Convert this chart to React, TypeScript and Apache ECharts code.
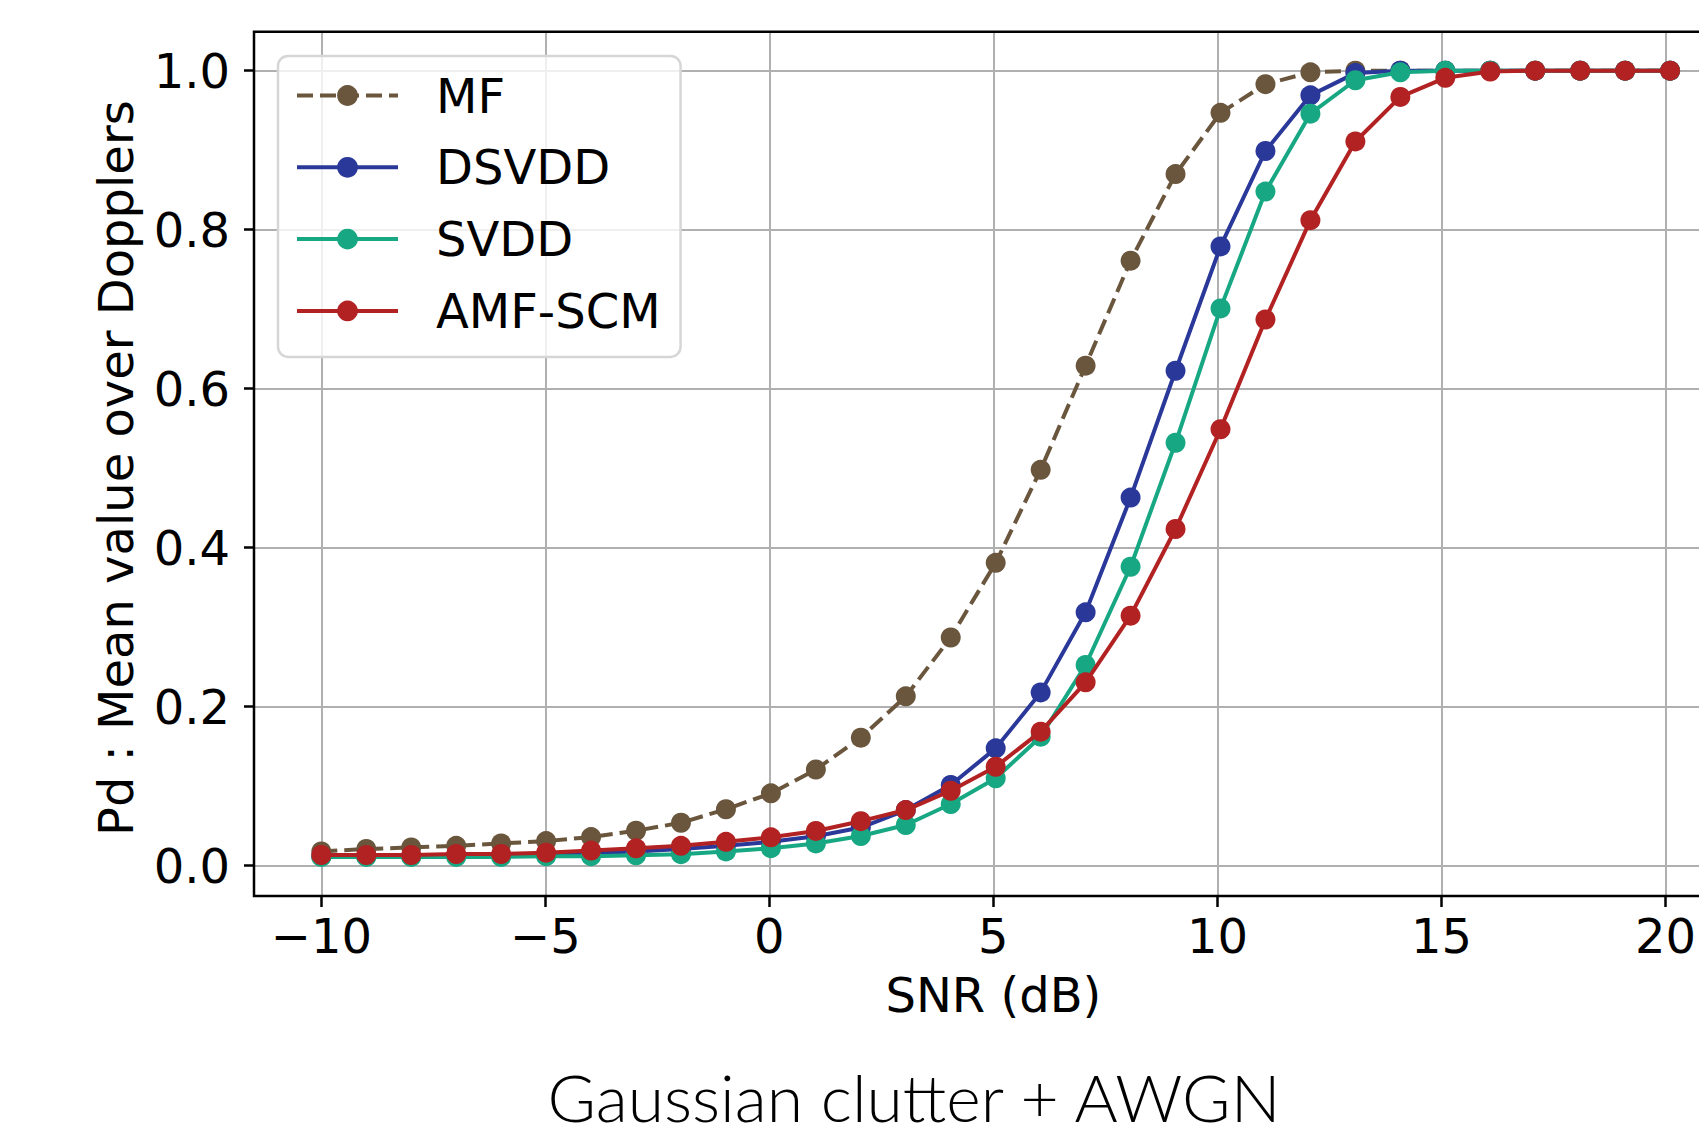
import React, { useEffect, useRef } from "react";
import * as echarts from "echarts";

const snrDb = [-10, -9, -8, -7, -6, -5, -4, -3, -2, -1, 0, 1, 2, 3, 4, 5, 6, 7, 8, 9, 10, 11, 12, 13, 14, 15, 16, 17, 18, 19, 20];

const mfPd = [0.018, 0.021, 0.023, 0.025, 0.028, 0.031, 0.036, 0.044, 0.054, 0.071, 0.091, 0.121, 0.161, 0.213, 0.287, 0.381, 0.498, 0.629, 0.761, 0.870, 0.947, 0.983, 0.998, 1.0, 1.0, 1.0, 1.0, 1.0, 1.0, 1.0, 1.0];
const dsvddPd = [0.012, 0.012, 0.012, 0.013, 0.013, 0.014, 0.016, 0.018, 0.021, 0.025, 0.030, 0.037, 0.048, 0.070, 0.1015, 0.1476, 0.218, 0.3187, 0.463, 0.6226, 0.779, 0.899, 0.969, 0.997, 1.0, 1.0, 1.0, 1.0, 1.0, 1.0, 1.0];
const svddPd = [0.011, 0.011, 0.011, 0.011, 0.011, 0.012, 0.012, 0.013, 0.0145, 0.018, 0.022, 0.028, 0.0374, 0.0512, 0.0776, 0.110, 0.1623, 0.2525, 0.376, 0.532, 0.701, 0.848, 0.946, 0.988, 0.998, 1.0, 1.0, 1.0, 1.0, 1.0, 1.0];
const amfScmPd = [0.0135, 0.0135, 0.0135, 0.0147, 0.0147, 0.0164, 0.019, 0.0219, 0.025, 0.030, 0.0357, 0.0437, 0.056, 0.070, 0.0943, 0.1245, 0.1686, 0.2307, 0.3145, 0.4235, 0.549, 0.687, 0.812, 0.911, 0.967, 0.991, 0.999, 1.0, 1.0, 1.0, 1.0];

const seriesNames = ["MF", "DSVDD", "SVDD", "AMF-SCM"];
const seriesColors = ["#6a553d", "#2a3899", "#17a883", "#b22222"];
const seriesValues = [mfPd, dsvddPd, svddPd, amfScmPd];
const seriesDashed = [true, false, false, false];

const xLabel = "SNR (dB)";
const yLabel = "Pd : Mean value over Dopplers";
const caption = "Gaussian clutter + AWGN";

export default function App() {
  const ref = useRef<HTMLDivElement>(null);
  useEffect(() => {
    const chart = echarts.init(ref.current!, null, { renderer: "svg" });
    const font = "DejaVu Sans";
    const fs = 48;
    const pairs = (ys: number[]) => snrDb.map((x, i) => [x, ys[i]]);
    // pixel geometry
    const boxL = 254, boxT = 31.7, boxR = 1737, boxB = 896;
    const dataL = 321.3, dataW = 1348.8, dataT = 70.7, dataH = 795;
    const gridColor = "#b0b0b0";
    chart.setOption({
      animation: false,
      backgroundColor: "#ffffff",
      grid: [
        { left: dataL, top: dataT, width: dataW, height: dataH, containLabel: false },
        { left: dataL, top: boxT, width: dataW, height: boxB - boxT, containLabel: false },
        { left: boxL, top: dataT, width: boxR - boxL, height: dataH, containLabel: false },
      ],
      xAxis: [
        { type: "value", gridIndex: 0, min: -10, max: 20, show: false },
        {
          type: "value", gridIndex: 1, min: -10, max: 20, interval: 5, position: "bottom",
          axisLine: { show: false },
          axisTick: { show: true, inside: false, length: 11, lineStyle: { color: "#000", width: 2.5 } },
          splitLine: { show: true, lineStyle: { color: gridColor, width: 2 } },
          axisLabel: {
            show: true, margin: 40, verticalAlign: "middle", color: "#000", fontFamily: font, fontSize: fs,
            formatter: (v: number) => String(v).replace("-", "\u2212"),
          },
          name: xLabel, nameLocation: "middle", nameGap: 99,
          nameTextStyle: { color: "#000", fontFamily: font, fontSize: fs, verticalAlign: "middle" },
        },
        { type: "value", gridIndex: 2, min: 0, max: 1, show: false },
      ],
      yAxis: [
        { type: "value", gridIndex: 0, min: 0, max: 1, show: false },
        { type: "value", gridIndex: 1, min: 0, max: 1, show: false },
        {
          type: "value", gridIndex: 2, min: 0, max: 1, interval: 0.2, position: "left",
          axisLine: { show: false },
          axisTick: { show: true, inside: false, length: 10, lineStyle: { color: "#000", width: 2.5 } },
          splitLine: { show: true, lineStyle: { color: gridColor, width: 2 } },
          axisLabel: {
            show: true, margin: 24, color: "#000", fontFamily: font, fontSize: fs,
            formatter: (v: number) => v.toFixed(1),
          },
          name: yLabel, nameLocation: "middle", nameGap: 138, nameRotate: 90,
          nameTextStyle: { color: "#000", fontFamily: font, fontSize: fs, verticalAlign: "middle" },
        },
      ],
      legend: {
        orient: "vertical", left: 278, top: 56,
        padding: [15.5, 20, 22, 17],
        itemWidth: 101, itemHeight: 26, itemGap: 23.8,
        backgroundColor: "rgba(255,255,255,0.8)", borderColor: "#d6d6d6", borderWidth: 2.5, borderRadius: 10,
        lineStyle: { width: 4 },
        textStyle: { fontFamily: font, fontSize: fs, color: "#000", lineHeight: 26, padding: [0, 0, 0, 33] },
        data: seriesNames,
        selectedMode: false,
      },
      graphic: [
        {
          type: "rect", z: 3, silent: true,
          shape: { x: boxL, y: boxT, width: boxR - boxL, height: boxB - boxT },
          style: { fill: "none", stroke: "#000", lineWidth: 2.5 },
        },
        {
          type: "text", z: 3, x: 914, y: 1096,
          style: { text: caption, fill: "#000", fontFamily: "Lato", fontWeight: 300, fontSize: 66, lineHeight: 66, align: "center", verticalAlign: "middle" },
        },
      ],
      series: seriesNames.map((name, k) => ({
        type: "line", name, xAxisIndex: 0, yAxisIndex: 0,
        data: pairs(seriesValues[k]),
        symbol: "circle", symbolSize: 20, showAllSymbol: true, clip: false,
        lineStyle: { color: seriesColors[k], width: 4, type: seriesDashed[k] ? [16, 7] : "solid" },
        itemStyle: { color: seriesColors[k] },
        emphasis: { disabled: true },
        z: 2 + k * 0.01,
      })),
    });
    return () => chart.dispose();
  }, []);
  return <div ref={ref} style={{ position: "fixed", left: 0, top: 0, width: 1699, height: 1133 }} />;
}
